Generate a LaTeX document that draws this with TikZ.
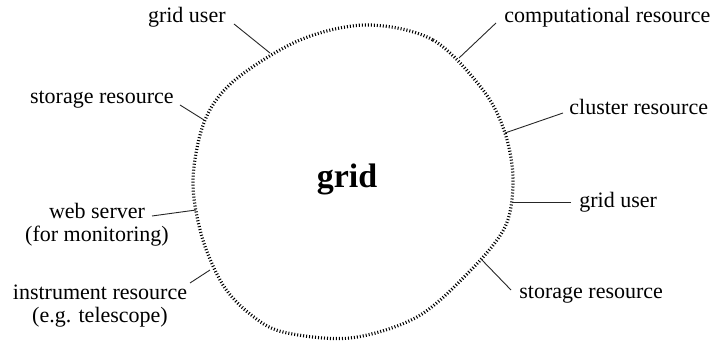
\documentclass[tikz,border=0pt]{standalone}
\usepackage{fontspec}
\setmainfont{Liberation Serif}
\begin{document}
\begin{tikzpicture}[x=0.5pt,y=-0.5pt,
  lbl/.style={inner sep=0pt,font=\fontsize{11}{11.5}\selectfont,align=center},
  conn/.style={line width=0.45pt,draw=black!85},
  blob/.style={line width=1.6pt,dash pattern=on 0.5pt off 1pt}]
\useasboundingbox (0,0) rectangle (712,341);
% blob
\draw[blob] plot[smooth cycle,tension=0.55] coordinates {
 (367,25) (433,40) (483,90) (505,133) (513,180) (505,227) (469,272)
 (417,317) (350,338) (283,332) (250,314) (223,285) (202,237) (193,180) (205,120) (235,80) (300,40)};
\node[inner sep=0pt,anchor=base,font=\fontsize{17}{20}\selectfont\bfseries] (grid) at (347,188) {grid};
% contact coordinates
\coordinate (c1) at (270,53);
\coordinate (c2) at (204,120);
\coordinate (c3) at (196,210);
\coordinate (c4) at (210,270);
\coordinate (c5) at (459,58);
\coordinate (c6) at (505,133);
\coordinate (c7) at (512,202);
\coordinate (c8) at (481,259);
% text-side ends
\coordinate (e1) at (234,24);
\coordinate (e2) at (180,105);
\coordinate (e3) at (152,216);
\coordinate (e4) at (190,283);
\coordinate (e5) at (496,23);
\coordinate (e6) at (563,113);
\coordinate (e7) at (571,202);
\coordinate (e8) at (511,290);
% labels
\node[lbl,anchor=east] (l1) at (226,17) {grid user};
\node[lbl,anchor=east] (l2) at (174,100) {storage resource};
\node[lbl] (l3) at (97,225) {web server\\(for monitoring)};
\node[lbl] (l4) at (100,306) {instrument resource\\(e.g. telescope)};
\node[lbl,anchor=west] (l5) at (504,17) {computational resource};
\node[lbl,anchor=west] (l6) at (569,107) {cluster resource};
\node[lbl,anchor=west] (l7) at (579,202) {grid user};
\node[lbl,anchor=west] (l8) at (519,295) {storage resource};
% connectors
\draw[conn] (e1) -- (c1);
\draw[conn] (e2) -- (c2);
\draw[conn] (e3) -- (c3);
\draw[conn] (e4) -- (c4);
\draw[conn] (e5) -- (c5);
\draw[conn] (e6) -- (c6);
\draw[conn] (e7) -- (c7);
\draw[conn] (e8) -- (c8);
\end{tikzpicture}
\end{document}
